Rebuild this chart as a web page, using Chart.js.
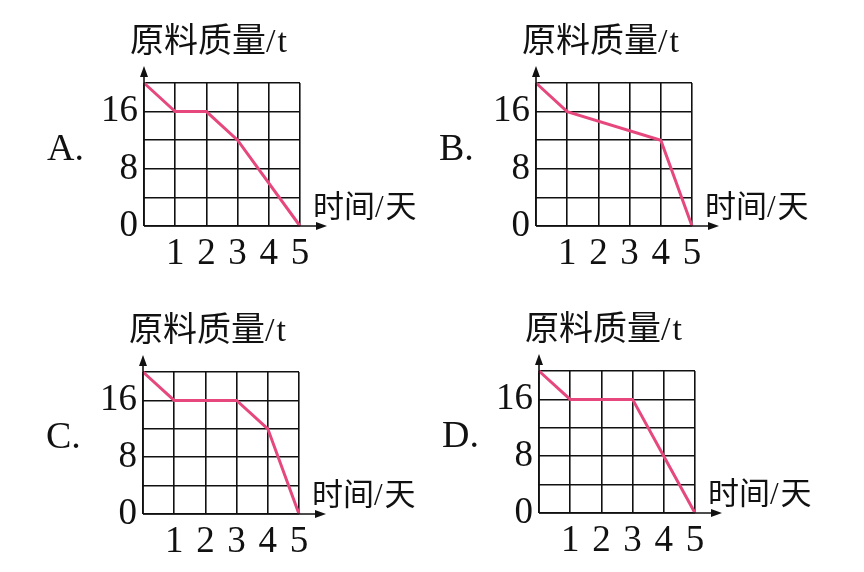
<!DOCTYPE html>
<html>
<head>
<meta charset="utf-8">
<script src="https://cdn.jsdelivr.net/npm/chart.js@4"></script>
<style>
  body { margin: 0; background: #fff; }
  #page { position: relative; width: 864px; height: 572px; overflow: hidden; }
  .box { position: absolute; }
</style>
</head>
<body>
<div id="page"></div>
<script>
// data
const dayA = [0, 1, 2, 3, 5];
const massA = [20, 16, 16, 12, 0];
const dayB = [0, 1, 4, 5];
const massB = [20, 16, 12, 0];
const dayC = [0, 1, 3, 4, 5];
const massC = [20, 16, 16, 12, 0];
const dayD = [0, 1, 3, 4, 5];
const massD = [20, 16, 16, 8, 0];

const yTickLabels = [0, 8, 16];
const xTickLabels = [1, 2, 3, 4, 5];
const choiceLabels = ["A.", "B.", "C.", "D."];
const yTitle = "原料质量/t";
const xTitle = "时间/天";

// where each plot area sits on the page
const areas = [
  { l: 144, t: 83, r: 300, b: 226 },
  { l: 536, t: 83, r: 692, b: 226 },
  { l: 143, t: 372, r: 299, b: 514 },
  { l: 539, t: 371, r: 695, b: 513 },
];
const series = [
  [dayA, massA],
  [dayB, massB],
  [dayC, massC],
  [dayD, massD],
];

const PAD_L = 110, PAD_T = 80, PAD_R = 140, PAD_B = 50;
const serif = "'Liberation Serif', 'DejaVu Serif', serif";
const cjk = "'Noto Sans CJK SC', sans-serif";

// draw text, serif for latin bits and cjk font for the rest
function mixedText(ctx, text, x, y, size) {
  for (const ch of text) {
    ctx.font = size + "px " + (/[\u4e00-\u9fff]/.test(ch) ? cjk : serif);
    ctx.fillText(ch, x, y);
    x += ctx.measureText(ch).width + (ch === "/" ? 2 : 0);
  }
}

const decor = {
  id: "decor",
  afterDraw(chart, args, opts) {
    const { ctx, chartArea: a } = chart;
    ctx.save();
    ctx.strokeStyle = "#111";
    ctx.fillStyle = "#111";
    ctx.lineWidth = 1.6;
    // y axis with arrow
    ctx.beginPath();
    ctx.moveTo(a.left, a.bottom);
    ctx.lineTo(a.left, a.top - 12);
    ctx.stroke();
    ctx.beginPath();
    ctx.moveTo(a.left, a.top - 17);
    ctx.lineTo(a.left - 4, a.top - 6);
    ctx.lineTo(a.left + 4, a.top - 6);
    ctx.closePath();
    ctx.fill();
    // x axis with arrow
    ctx.beginPath();
    ctx.moveTo(a.left, a.bottom);
    ctx.lineTo(a.right + 22, a.bottom);
    ctx.stroke();
    ctx.beginPath();
    ctx.moveTo(a.right + 27, a.bottom);
    ctx.lineTo(a.right + 16, a.bottom - 4);
    ctx.lineTo(a.right + 16, a.bottom + 4);
    ctx.closePath();
    ctx.fill();

    ctx.textBaseline = "alphabetic";
    ctx.textAlign = "left";
    mixedText(ctx, yTitle, a.left - 14, a.top - 31, 34);
    mixedText(ctx, xTitle, a.right + 13, a.bottom - 9, 31);
    ctx.font = "38px " + serif;
    ctx.fillText(opts.letter, a.left - 97, a.bottom - 66);
    ctx.restore();
  },
};

const page = document.getElementById("page");
areas.forEach((area, i) => {
  const w = PAD_L + (area.r - area.l) + PAD_R;
  const h = PAD_T + (area.b - area.t) + PAD_B;
  const box = document.createElement("div");
  box.className = "box";
  box.style.left = area.l - PAD_L + "px";
  box.style.top = area.t - PAD_T + "px";
  const canvas = document.createElement("canvas");
  canvas.width = w;
  canvas.height = h;
  box.appendChild(canvas);
  page.appendChild(box);

  const [days, mass] = series[i];
  new Chart(canvas.getContext("2d"), {
    type: "scatter",
    data: {
      datasets: [
        {
          data: days.map((d, k) => ({ x: d, y: mass[k] })),
          showLine: true,
          borderColor: "#E6487E",
          borderWidth: 3,
          pointRadius: 0,
          clip: false,
        },
      ],
    },
    options: {
      responsive: false,
      animation: false,
      devicePixelRatio: 1,
      layout: { padding: { left: 0, top: PAD_T, right: PAD_R, bottom: 0 } },
      plugins: {
        legend: { display: false },
        tooltip: { enabled: false },
        decor: { letter: choiceLabels[i] },
      },
      scales: {
        x: {
          type: "linear",
          min: 0,
          max: 5,
          afterFit: (s) => { s.height = PAD_B; },
          border: { display: false },
          grid: { color: "#111", lineWidth: 1.6, drawTicks: false },
          ticks: {
            stepSize: 1,
            autoSkip: false,
            maxRotation: 0,
            padding: 6,
            color: "#111",
            font: { family: serif, size: 37 },
            callback: (v) => (xTickLabels.includes(v) ? String(v) : ""),
          },
        },
        y: {
          min: 0,
          max: 20,
          afterFit: (s) => { s.width = PAD_L; },
          border: { display: false },
          grid: { color: "#111", lineWidth: 1.6, drawTicks: false },
          ticks: {
            stepSize: 4,
            autoSkip: false,
            padding: 6,
            color: "#111",
            font: { family: serif, size: 37 },
            callback: (v) => (yTickLabels.includes(v) ? String(v) : ""),
          },
        },
      },
    },
    plugins: [decor],
  });
});
</script>
</body>
</html>
